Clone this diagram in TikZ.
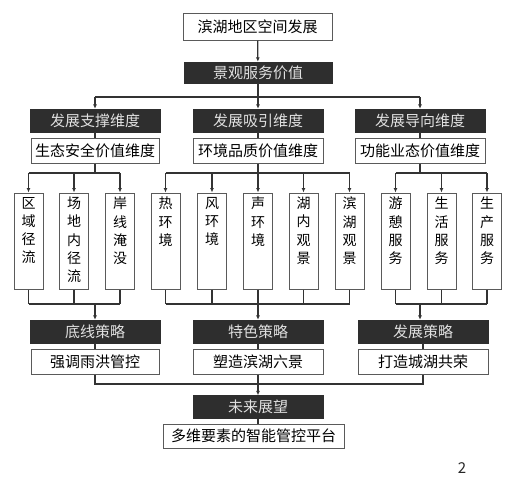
\documentclass[tikz,border=0pt]{standalone}
\usepackage{fontspec}
\setmainfont{Noto Sans CJK SC}
\usetikzlibrary{arrows.meta}
\definecolor{darkbox}{HTML}{2E2E2E}
\definecolor{edgec}{HTML}{5A5A5A}
\definecolor{wirec}{HTML}{333333}
\newcommand\vtext[1]{\parbox[c][88pt][t]{18pt}{\centering\fontsize{14}{18.3}\selectfont #1\par}}
\begin{document}
\begin{tikzpicture}[x=1pt,y=-1pt,
 wbox/.style={draw=edgec, fill=white, line width=1pt, inner sep=0pt, minimum height=25pt, font=\fontsize{15}{17}\selectfont},
 dbox/.style={draw=darkbox, fill=darkbox, text=white!88!black, inner sep=0pt, minimum width=130pt, minimum height=23pt, font=\fontsize{15}{17}\selectfont},
 vbox/.style={draw=edgec, fill=white, line width=1pt, inner sep=0pt, minimum width=29pt, minimum height=96pt},
 wire/.style={draw=wirec, line width=1.2pt},
 arr/.style={wire, -{Latex[length=4.5pt,width=4pt]}}
]
\useasboundingbox (0,0) rectangle (509,488);

% top
\node[wbox, minimum width=149pt, minimum height=27pt] (top) at (257.5,26.5) {滨湖地区空间发展};
\node[dbox, minimum width=148pt, minimum height=21pt] (val) at (258,72.5) {景观服务价值};

% dimensions
\node[dbox] (d1) at (95,120.5) {发展支撑维度};
\node[dbox] (d2) at (258,120.5) {发展吸引维度};
\node[dbox] (d3) at (420,120.5) {发展导向维度};
\node[wbox, minimum width=128pt] (w1) at (95,150.5) {生态安全价值维度};
\node[wbox, minimum width=130pt] (w2) at (258,150.5) {环境品质价值维度};
\node[wbox, minimum width=130pt] (w3) at (420,150.5) {功能业态价值维度};

% children
\node[vbox] (c1) at (28.5,241) {\vtext{区\\域\\径\\流}};
\node[vbox] (c2) at (74,241) {\vtext{场\\地\\内\\径\\流}};
\node[vbox] (c3) at (120,241) {\vtext{岸\\线\\淹\\没}};
\node[vbox] (c4) at (165.5,241) {\vtext{热\\环\\境}};
\node[vbox] (c5) at (212,241) {\vtext{风\\环\\境}};
\node[vbox] (c6) at (258,241) {\vtext{声\\环\\境}};
\node[vbox] (c7) at (303.5,241) {\vtext{湖\\内\\观\\景}};
\node[vbox] (c8) at (349.5,241) {\vtext{滨\\湖\\观\\景}};
\node[vbox] (c9) at (395.5,241) {\vtext{游\\憩\\服\\务}};
\node[vbox] (c10) at (441.5,241) {\vtext{生\\活\\服\\务}};
\node[vbox] (c11) at (487,241) {\vtext{生\\产\\服\\务}};

% strategies
\node[dbox] (s1) at (95,331.5) {底线策略};
\node[dbox] (s2) at (258,331.5) {特色策略};
\node[dbox] (s3) at (423,331.5) {发展策略};
\node[wbox, minimum width=128pt] (t1) at (95,361.5) {强调雨洪管控};
\node[wbox, minimum width=130pt] (t2) at (258,361.5) {塑造滨湖六景};
\node[wbox, minimum width=130pt] (t3) at (423,361.5) {打造城湖共荣};

\node[dbox] (fut) at (258,407) {未来展望};
\node[wbox, minimum width=181pt, minimum height=24pt] (plat) at (253.5,436) {多维要素的智能管控平台};

\node[font=\fontsize{15}{17}\selectfont, text=black!85] (pg) at (462,468) {2};

% junction coordinates
\coordinate (j0) at (258,97);
\coordinate (g1) at (95,173);
\coordinate (g2) at (258,173);
\coordinate (g3) at (420,173);
\coordinate (b1) at (95,304);
\coordinate (b2) at (258,304);
\coordinate (b3) at (420,304);
\coordinate (f0) at (258,384);

% connectors
\draw[arr] (top) -- (val);
\draw[wire] (val.south) -- (j0);
\draw[wire] (d1.north |- j0) -- (d3.north |- j0);
\draw[arr] (d1.north |- j0) -- (d1.north);
\draw[arr] (j0) -- (d2.north);
\draw[arr] (d3.north |- j0) -- (d3.north);
\draw[wire] (d1) -- (w1);
\draw[wire] (d2) -- (w2);
\draw[wire] (d3) -- (w3);

\draw[wire] (w1.south) -- (g1);
\draw[wire] (w2.south) -- (g2);
\draw[wire] (w3.south) -- (g3);
\draw[wire] (c1.north |- g1) -- (c3.north |- g1);
\draw[wire] (c4.north |- g2) -- (c8.north |- g2);
\draw[wire] (c9.north |- g3) -- (c11.north |- g3);
\foreach \c/\g in {c1/g1,c2/g1,c3/g1,c4/g2,c5/g2,c6/g2,c7/g2,c8/g2,c9/g3,c10/g3,c11/g3}
  \draw[arr] (\c.north |- \g) -- (\c.north);

\foreach \c/\g in {c1/b1,c2/b1,c3/b1,c4/b2,c5/b2,c6/b2,c7/b2,c8/b2,c9/b3,c10/b3,c11/b3}
  \draw[wire] (\c.south) -- (\c.south |- \g);
\draw[wire] (c1.south |- b1) -- (c3.south |- b1);
\draw[wire] (c4.south |- b2) -- (c8.south |- b2);
\draw[wire] (c9.south |- b3) -- (c11.south |- b3);
\draw[arr] (b1) -- (s1.north -| b1);
\draw[arr] (b2) -- (s2.north);
\draw[arr] (b3) -- (s3.north -| b3);

\draw[wire] (s1) -- (t1);
\draw[wire] (s2) -- (t2);
\draw[wire] (s3) -- (t3);
\draw[wire] (t1.south) -- (t1.south |- f0) -- (t3.south |- f0) -- (t3.south);
\draw[wire] (t2.south) -- (f0);
\draw[arr] (f0) -- (fut.north);
\draw[wire] (fut) -- (plat.north -| fut);
\end{tikzpicture}
\end{document}
